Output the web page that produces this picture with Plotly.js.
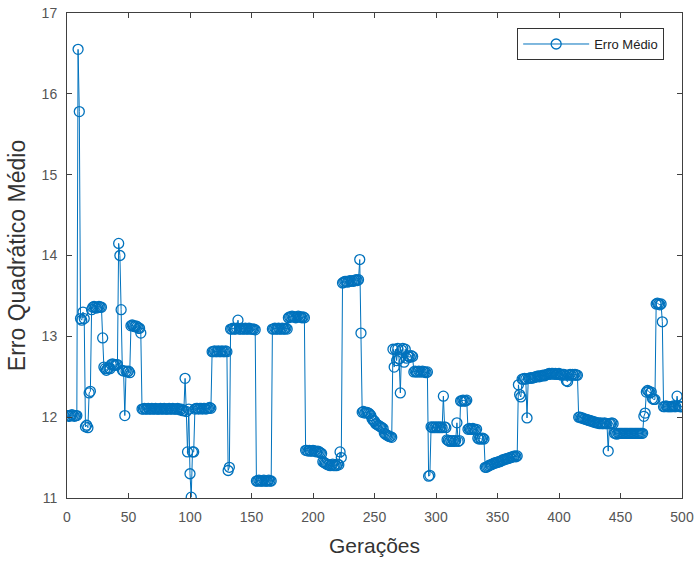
<!DOCTYPE html>
<html>
<head>
<meta charset="utf-8">
<script src="https://cdn.plot.ly/plotly-3.0.1.min.js"></script>
<style>html,body{margin:0;padding:0;background:#fff;}#chart{width:697px;height:561px;}</style>
</head>
<body>
<div id="chart"></div>
<script>
// Erro médio per generation (gerações 1..500)
const erroMedio = [
12.02,12.01,12.02,12.03,12.02,12.01,12.02,12.02,16.55,15.78,
13.22,13.20,13.30,13.22,11.88,11.90,11.87,12.30,12.32,13.33,
13.36,13.37,13.36,13.35,13.36,13.37,13.36,13.36,12.98,12.62,
12.60,12.58,12.60,12.61,12.60,12.65,12.66,12.65,12.64,12.65,
12.65,14.15,14.00,13.33,12.58,12.57,12.02,12.57,12.56,12.57,
12.55,13.13,13.14,13.13,13.12,13.13,13.12,13.10,13.10,13.04,
12.10,12.10,12.11,12.10,12.10,12.11,12.10,12.10,12.11,12.10,
12.10,12.11,12.10,12.10,12.10,12.11,12.10,12.10,12.11,12.10,
12.10,12.10,12.11,12.10,12.10,12.11,12.10,12.10,12.10,12.11,
12.10,12.09,12.10,12.08,12.08,12.48,12.07,11.57,12.10,11.30,
11.01,11.57,11.57,12.10,12.11,12.11,12.10,12.11,12.11,12.10,
12.11,12.11,12.10,12.11,12.11,12.12,12.11,12.81,12.81,12.82,
12.81,12.81,12.82,12.81,12.81,12.82,12.81,12.81,12.82,12.81,
11.34,11.38,13.09,13.09,13.10,13.09,13.09,13.10,13.20,13.09,
13.09,13.10,13.09,13.09,13.10,13.09,13.09,13.10,13.09,13.09,
13.09,13.09,13.08,11.21,11.21,11.22,11.21,11.21,11.21,11.22,
11.21,11.21,11.21,11.22,11.21,11.21,13.09,13.09,13.10,13.09,
13.09,13.10,13.09,13.09,13.10,13.09,13.09,13.10,13.09,13.23,
13.24,13.24,13.25,13.24,13.24,13.23,13.24,13.25,13.24,13.24,
13.23,13.24,13.23,11.59,11.59,11.58,11.59,11.58,11.58,11.59,
11.58,11.58,11.57,11.58,11.57,11.56,11.55,11.45,11.44,11.43,
11.42,11.41,11.41,11.40,11.41,11.42,11.40,11.41,11.40,11.42,
11.41,11.57,11.50,13.66,13.67,13.68,13.68,13.67,13.68,13.69,
13.68,13.69,13.68,13.69,13.70,13.69,13.70,13.95,13.04,12.06,
12.07,12.05,12.06,12.06,12.05,12.04,12.02,11.98,11.96,11.95,
11.92,11.91,11.90,11.89,11.88,11.87,11.86,11.80,11.79,11.78,
11.77,11.76,11.76,11.75,12.84,12.62,12.84,12.70,12.85,12.72,
12.30,12.83,12.85,12.68,12.84,12.73,12.76,12.75,12.74,12.76,
12.75,12.56,12.57,12.56,12.56,12.57,12.56,12.56,12.57,12.56,
12.56,12.55,12.56,11.27,11.28,11.88,11.87,11.88,11.87,11.88,
11.87,11.88,11.87,11.88,11.87,12.26,11.88,11.87,11.72,11.71,
11.70,11.71,11.70,11.71,11.70,11.71,11.93,11.70,11.71,12.20,
12.20,12.21,12.20,12.20,12.21,11.85,11.86,11.85,11.85,11.86,
11.85,11.84,11.85,11.74,11.73,11.74,11.73,11.74,11.73,11.38,
11.38,11.39,11.40,11.41,11.41,11.42,11.43,11.43,11.44,11.44,
11.45,11.45,11.46,11.47,11.47,11.48,11.48,11.49,11.49,11.50,
11.50,11.51,11.51,11.52,11.51,11.52,12.40,12.28,12.25,12.47,
12.47,12.48,12.47,11.99,12.48,12.48,12.49,12.48,12.49,12.49,
12.50,12.50,12.51,12.50,12.51,12.51,12.52,12.51,12.52,12.53,
12.53,12.54,12.53,12.54,12.54,12.53,12.54,12.53,12.53,12.54,
12.53,12.52,12.53,12.53,12.52,12.45,12.44,12.52,12.53,12.52,
12.53,12.52,12.53,12.52,12.52,12.00,12.00,11.99,11.99,11.98,
11.98,11.97,11.97,11.96,11.96,11.95,11.95,11.94,11.94,11.93,
11.93,11.93,11.92,11.93,11.92,11.92,11.93,11.92,11.92,11.58,
11.92,11.92,11.93,11.92,11.80,11.80,11.79,11.80,11.80,11.80,
11.80,11.80,11.80,11.80,11.80,11.80,11.80,11.80,11.80,11.80,
11.80,11.80,11.80,11.80,11.80,11.80,11.80,11.80,12.01,12.05,
12.31,12.33,12.32,12.30,12.31,12.23,12.22,12.22,13.40,13.41,
13.40,13.39,13.40,13.18,12.13,12.13,12.14,12.13,12.13,12.13,
12.13,12.13,12.14,12.13,12.13,12.26,12.14,12.13,12.13,12.13
];
const geracoes = erroMedio.map((v, i) => i + 1);
const xTicks = [0, 50, 100, 150, 200, 250, 300, 350, 400, 450, 500];
const yTicks = [11, 12, 13, 14, 15, 16, 17];
const seriesName = 'Erro Médio';

const blue = '#0072BD';
const axisColor = '#404040';
const tickFamily = 'Liberation Sans Narrow, Arial Narrow, Liberation Sans, Arial, sans-serif';
const titleFamily = 'Liberation Sans, Arial, sans-serif';

const trace = {
  x: geracoes,
  y: erroMedio,
  type: 'scatter',
  mode: 'lines+markers',
  name: seriesName,
  line: {color: blue, width: 1},
  marker: {symbol: 'circle-open', size: 10, color: blue, line: {color: blue, width: 1.3}}
};

const axisCommon = {
  showgrid: false,
  zeroline: false,
  showline: true,
  mirror: 'ticks',
  linecolor: axisColor,
  linewidth: 1,
  ticks: 'inside',
  ticklen: 5,
  tickwidth: 1,
  tickcolor: axisColor,
  ticklabelstandoff: 6,
  tickfont: {family: tickFamily, size: 14, color: '#555555'}
};

const layout = {
  width: 697,
  height: 561,
  margin: {l: 67, r: 15, t: 13, b: 63},
  paper_bgcolor: '#ffffff',
  plot_bgcolor: '#ffffff',
  showlegend: true,
  xaxis: Object.assign({}, axisCommon, {
    range: [0, 500],
    tickvals: xTicks,
    ticktext: xTicks.map(String),
    title: {text: 'Gerações', standoff: 14, font: {family: titleFamily, size: 21, color: '#333333'}}
  }),
  yaxis: Object.assign({}, axisCommon, {
    range: [11, 17],
    tickvals: yTicks,
    ticktext: yTicks.map(String),
    title: {text: 'Erro Quadrático Médio', standoff: 9, font: {family: titleFamily, size: 23, color: '#333333'}}
  }),
  legend: {
    x: 0.971, y: 0.969, xanchor: 'right', yanchor: 'top',
    bgcolor: '#ffffff',
    bordercolor: '#333333',
    borderwidth: 1,
    font: {family: titleFamily, size: 13, color: '#222222'},
    itemwidth: 66
  }
};

Plotly.newPlot('chart', [trace], layout, {displayModeBar: false, staticPlot: true});
</script>
</body>
</html>
